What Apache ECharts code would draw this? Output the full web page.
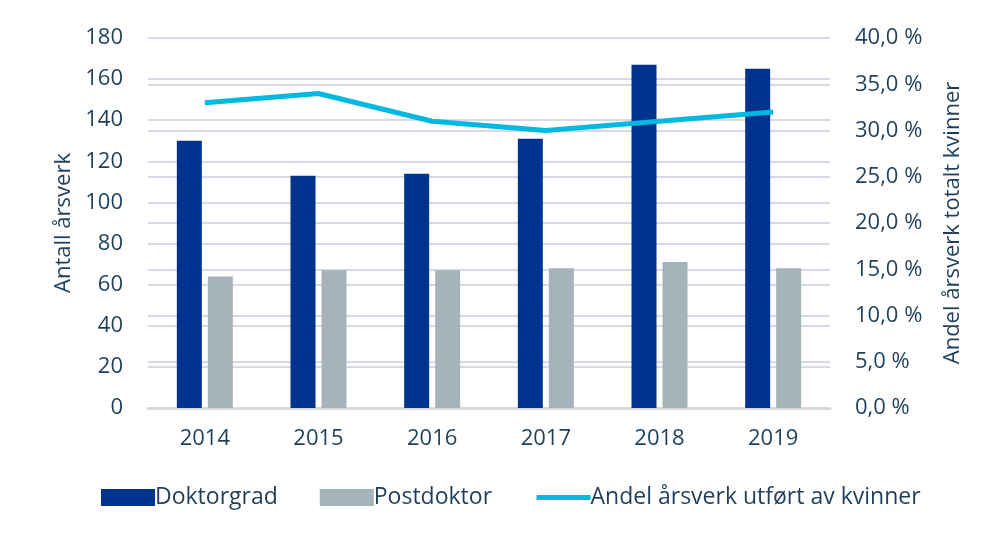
<!DOCTYPE html>
<html><head><meta charset="utf-8">
<script src="https://cdn.jsdelivr.net/npm/echarts@6/dist/echarts.min.js"></script>
<style>html,body{margin:0;padding:0;background:#fff}#c{width:988px;height:534px}</style>
</head><body><div id="c"></div>
<script>
const years = ['2014','2015','2016','2017','2018','2019'];
const doktorgrad = [130, 113, 114, 131, 167, 165];
const postdoktor = [64, 67, 67, 68, 71, 68];
const andelKvinner = [33, 34, 31, 30, 31, 32];

const txt = '#1f3f5b';
const font = 'Open Sans';
const chart = echarts.init(document.getElementById('c'));
chart.setOption({
  animation: false,
  textStyle: {fontFamily: font, color: txt},
  grid: {left: 148, right: 158, top: 38, bottom: 126},
  legend: {
    bottom: 20, left: 96, itemGap: 42, itemWidth: 54, itemHeight: 17,
    textStyle: {fontSize: 23, color: txt, fontFamily: font, padding: [0,0,0,-5]},
    data: [
      {name: 'Doktorgrad', icon: 'rect'},
      {name: 'Postdoktor', icon: 'rect'},
      {name: 'Andel årsverk utført av kvinner', itemStyle: {opacity: 0}, lineStyle: {width: 5}}
    ]
  },
  xAxis: {
    type: 'category', data: years,
    axisLine: {lineStyle: {color: '#d9d9d9', width: 3}},
    axisTick: {show: false},
    axisLabel: {fontSize: 22, color: txt, margin: 20}
  },
  yAxis: [
    {
      type: 'value', min: 0, max: 180, interval: 20,
      name: 'Antall årsverk', nameLocation: 'middle', nameGap: 73,
      nameTextStyle: {fontSize: 22, color: txt},
      axisLabel: {fontSize: 22, color: txt, margin: 25},
      axisLine: {show: false}, axisTick: {show: false},
      splitLine: {lineStyle: {color: '#d9d9e6', width: 2}}
    },
    {
      type: 'value', min: 0, max: 40, interval: 5,
      name: 'Andel årsverk totalt kvinner', nameLocation: 'middle', nameGap: 112,
      nameTextStyle: {fontSize: 22, color: txt},
      axisLabel: {fontSize: 22, color: txt, margin: 25,
        formatter: v => v.toFixed(1).replace('.', ',') + ' %'},
      axisLine: {show: false}, axisTick: {show: false},
      splitLine: {lineStyle: {color: '#d9d9e6', width: 2}}
    }
  ],
  series: [
    {name: 'Doktorgrad', type: 'bar', data: doktorgrad, barWidth: 25, barGap: '24%',
     itemStyle: {color: '#00338d'}},
    {name: 'Postdoktor', type: 'bar', data: postdoktor, barWidth: 25,
     itemStyle: {color: '#a5b3bb'}},
    {name: 'Andel årsverk utført av kvinner', type: 'line', yAxisIndex: 1, data: andelKvinner,
     symbol: 'none', lineStyle: {color: '#00b9e0', width: 5}, itemStyle: {color: '#00b9e0'}}
  ]
});
</script></body></html>
